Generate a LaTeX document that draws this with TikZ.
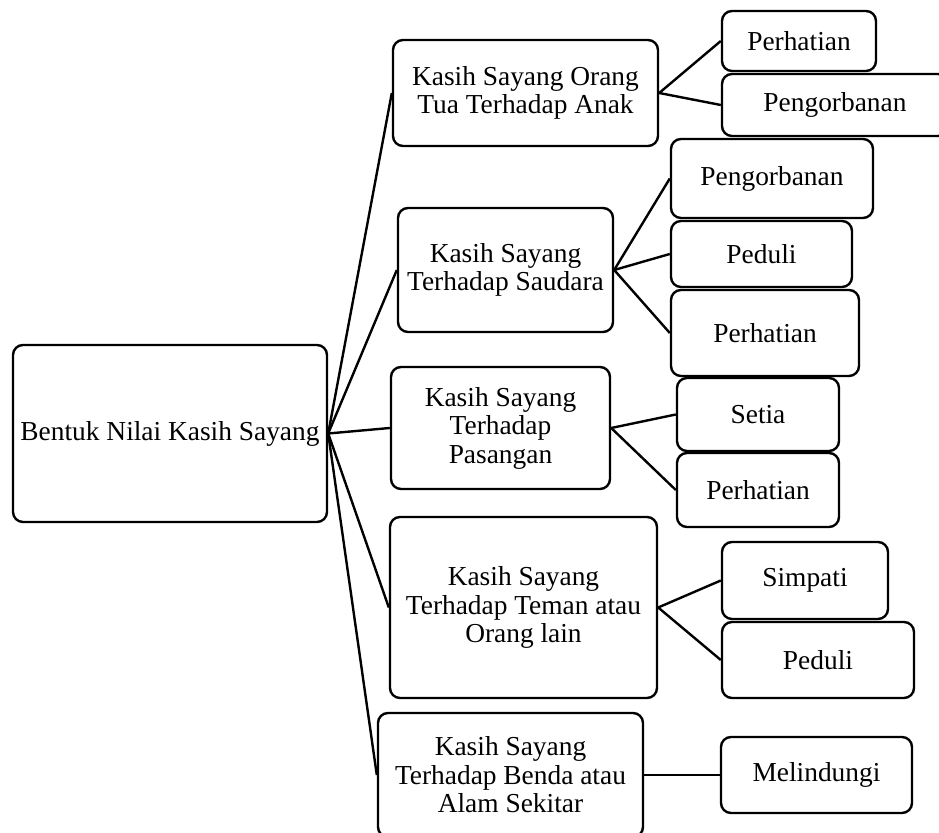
\documentclass[tikz,border=0pt]{standalone}
\usepackage{fontspec}
\setmainfont{Liberation Serif}

\begin{document}
\begin{tikzpicture}[x=0.5pt,y=-0.5pt]

      \useasboundingbox (0,0) rectangle (939,833);

      \begin{scope}[every node/.style={rectangle, rounded corners=5pt, draw, line width=1.2pt,
          align=center, inner sep=2pt, font=\fontsize{13.7}{14.25}\selectfont}]
        \node[minimum width=157pt, minimum height=88.5pt] (1) at (170,433.5) {Bentuk Nilai Kasih Sayang};
        \node[minimum width=132.5pt, minimum height=53pt] (2) at (525.5,93) {Kasih Sayang Orang\\Tua Terhadap Anak};
        \node[minimum width=107.5pt, minimum height=62pt] (3) at (505.5,270) {Kasih Sayang\\Terhadap Saudara};
        \node[minimum width=109.5pt, minimum height=61pt] (4) at (500.5,428) {Kasih Sayang\\Terhadap\\Pasangan};
        \node[minimum width=133.5pt, minimum height=90.5pt] (5) at (523.5,607.5) {Kasih Sayang\\Terhadap Teman atau\\Orang lain};
        \node[minimum width=132.5pt, minimum height=62pt] (6) at (510.5,775) {Kasih Sayang\\Terhadap Benda atau\\Alam Sekitar};
        \node[minimum width=77pt, minimum height=30pt] (7) at (799,41) {Perhatian};
        \node[minimum width=113pt, minimum height=31pt] (8) at (835,105) {Pengorbanan};
        \node[minimum width=101pt, minimum height=39.5pt] (9) at (772,178.5) {Pengorbanan};
        \node[minimum width=90.5pt, minimum height=33pt] (10) at (761.5,254) {Peduli};
        \node[minimum width=94pt, minimum height=43pt] (11) at (765,333) {Perhatian};
        \node[minimum width=81pt, minimum height=36.5pt] (12) at (758,414.5) {Setia};
        \node[minimum width=81pt, minimum height=37pt] (13) at (758,490) {Perhatian};
        \node[minimum width=83pt, minimum height=38.5pt] (14) at (805,580.5) {Simpati};
        \node[minimum width=96pt, minimum height=38pt] (15) at (818,660) {Peduli};
        \node[minimum width=95.5pt, minimum height=38pt] (16) at (816.5,775) {Melindungi};
      \end{scope}

      \begin{scope}[every edge/.style={draw, line width=1.2pt}]
        \path (1.east) edge (2.west);
        \path (1.east) edge (3.west);
        \path (1.east) edge (4.west);
        \path (1.east) edge (5.west);
        \path (1.east) edge (6.west);
        \path (2.east) edge (7.west);
        \path (2.east) edge (8.west);
        \path (3.east) edge (9.west);
        \path (3.east) edge (10.west);
        \path (3.east) edge (11.west);
        \path (4.east) edge (12.west);
        \path (4.east) edge (13.west);
        \path (5.east) edge (14.west);
        \path (5.east) edge (15.west);
        \path (6.east) edge (16.west);
      \end{scope}

    \end{tikzpicture}
\end{document}
